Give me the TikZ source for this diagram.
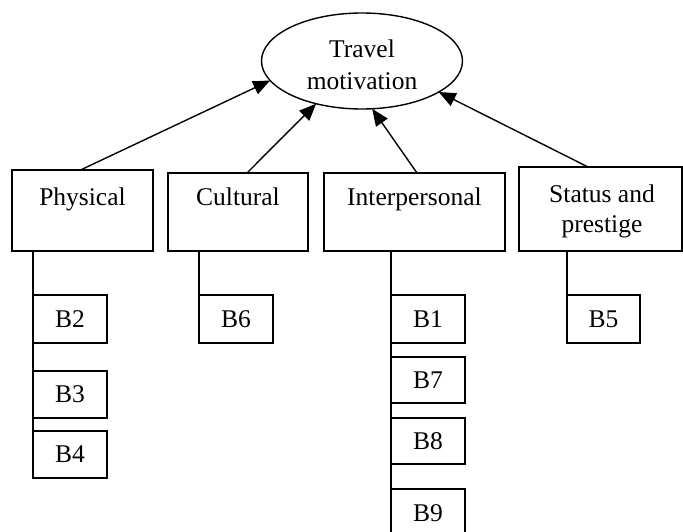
\documentclass[tikz,border=0pt]{standalone}
\usepackage{fontspec}
\setmainfont{Liberation Serif}
\usetikzlibrary{arrows.meta,shapes.geometric}
\begin{document}
\begin{tikzpicture}[x=1pt,y=-1pt,
  every node/.style={font=\fontsize{25.5}{30}\selectfont, inner sep=0pt, outer sep=0pt},
  line/.style={line width=1.4pt, black},
  cat/.style={draw, line width=1.4pt, rectangle, minimum height=81pt},
  bbox/.style={draw, line width=1.4pt, rectangle, minimum width=74pt, minimum height=47pt},
  arr/.style={line, -{Triangle[length=17pt,width=14pt]}},
  lbl/.style={anchor=base}]
\clip (0,0) rectangle (683,532);
\useasboundingbox (0,0) rectangle (683,532);

% top ellipse
\node[draw, line width=1.4pt, ellipse, minimum width=201pt, minimum height=96pt] (tm) at (362,61) {};
\begin{scope}
  \clip (250,0) rectangle (470,90);
  \node[lbl] (tmA) at (362,58) {Travel};
  \node[lbl] (tmB) at (362,90) {motivation};
\end{scope}

% category boxes
\node[cat, minimum width=141pt] (phys) at (82.5,210.5) {};
\node[lbl] (physT) at ([yshift=-35pt]phys.north) {Physical};
\node[cat, minimum width=140pt, minimum height=78pt] (cult) at (238,212) {};
\node[lbl] (cultT) at ([yshift=-32pt]cult.north) {Cultural};
\node[cat, minimum width=181pt, minimum height=78pt] (inter) at (414.5,212) {};
\node[lbl] (interT) at ([yshift=-32pt]inter.north) {Interpersonal};
\node[cat, minimum width=163pt, minimum height=84pt] (stat) at (600.5,209) {};
\node[lbl] (statA) at ([xshift=1.5pt,yshift=-35pt]stat.north) {Status and};
\node[lbl] (statB) at ([xshift=1.5pt,yshift=-65pt]stat.north) {prestige};

% arrows
\draw[arr] ([xshift=-2pt]phys.north) -- (tm.192);
\draw[arr] ([xshift=9pt]cult.north) -- (tm.223);
\draw[arr] ([xshift=2.5pt]inter.north) -- (tm.282);
\draw[arr] ([xshift=-12.5pt]stat.north) -- (tm.338);

% item boxes
\node[bbox, minimum height=48pt] (B2) at (70,319) {B2};
\node[bbox] (B3) at (70,394.5) {B3};
\node[bbox] (B4) at (70,454.5) {B4};
\node[bbox, minimum height=48pt] (B6) at (236,319) {B6};
\node[bbox, minimum height=48pt] (B1) at (428,319) {B1};
\node[bbox, minimum height=46pt] (B7) at (428,380) {B7};
\node[bbox, minimum height=46pt] (B8) at (428,441) {B8};
\node[bbox, minimum height=48pt] (B9) at (428,513) {B9};
\node[bbox, minimum height=48pt, minimum width=73pt] (B5) at (603.5,319) {B5};

% vertical connectors
\draw[line] (phys.south -| B2.west) -- (B4.north west);
\draw[line] (cult.south -| B6.west) -- (B6.west);
\draw[line] (inter.south -| B1.west) -- (B9.north west);
\draw[line] (stat.south -| B5.west) -- (B5.north west);
\end{tikzpicture}
\end{document}
